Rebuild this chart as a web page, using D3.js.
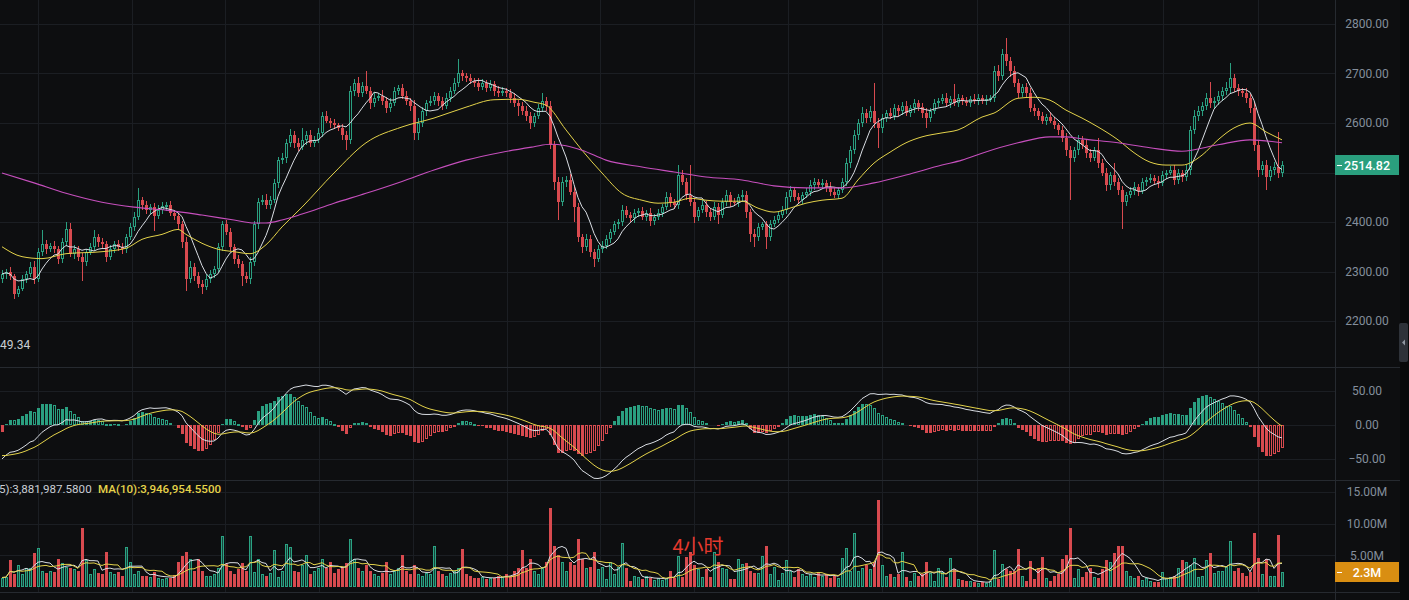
<!DOCTYPE html>
<html><head><meta charset="utf-8">
<script src="https://cdn.jsdelivr.net/npm/d3@7"></script>
<style>
html,body{margin:0;padding:0;background:#0d0e10;overflow:hidden}
svg{display:block}
text{font-family:Roboto,"Noto Sans",sans-serif}
</style></head><body>
<svg id="c" width="1409" height="600"></svg>
<script>
// ---------------- DATA ----------------
const firstOpen = 2285;
const closes = [
2295,2300,2290,2255,2265,2285,2295,2310,2285,2340,
2355,2345,2352,2345,2325,2360,2385,2335,2345,2330,
2320,2340,2350,2370,2360,2355,2330,2345,2355,2350,
2345,2370,2390,2410,2445,2435,2425,2430,2412,2425,
2432,2435,2418,2412,2395,2360,2285,2310,2290,2275,
2268,2285,2295,2305,2350,2395,2380,2350,2325,2315,
2290,2285,2320,2395,2440,2445,2435,2445,2478,2525,
2530,2560,2575,2560,2552,2565,2575,2560,2565,2580,
2615,2605,2600,2595,2590,2575,2565,2665,2680,2660,
2675,2665,2640,2650,2655,2645,2630,2640,2665,2670,
2655,2645,2635,2580,2600,2625,2640,2645,2655,2645,
2635,2650,2665,2680,2700,2695,2690,2685,2680,2672,
2680,2670,2678,2665,2660,2665,2660,2650,2640,2635,
2625,2615,2600,2615,2630,2645,2635,2555,2480,2440,
2480,2485,2460,2430,2370,2350,2365,2340,2325,2345,
2352,2365,2380,2395,2400,2425,2415,2408,2418,2422,
2410,2418,2402,2410,2418,2430,2450,2440,2435,2495,
2480,2455,2440,2410,2425,2435,2420,2410,2430,2415,
2440,2455,2440,2438,2450,2455,2420,2375,2370,2390,
2395,2370,2395,2405,2415,2425,2450,2465,2450,2445,
2455,2460,2475,2480,2475,2478,2470,2460,2455,2465,
2480,2520,2545,2575,2600,2620,2610,2625,2600,2590,
2610,2620,2615,2630,2625,2635,2620,2630,2640,2632,
2620,2610,2625,2640,2645,2650,2640,2648,2640,2650,
2645,2640,2648,2645,2650,2645,2648,2650,2705,2695,
2740,2725,2705,2680,2660,2672,2660,2630,2625,2615,
2605,2612,2605,2595,2585,2570,2545,2530,2545,2565,
2555,2540,2530,2545,2520,2500,2475,2495,2480,2465,
2440,2455,2462,2470,2462,2480,2485,2488,2482,2478,
2495,2500,2505,2485,2500,2490,2505,2585,2615,2625,
2635,2650,2640,2645,2655,2665,2670,2690,2670,2665,
2660,2650,2630,2555,2505,2515,2490,2505,2512,2500,
2514.82];
// wick length above / below the body (price units)
const wickUp = [
8,6,10,5,6,8,7,10,12,8, 29,8,6,10,6,8,15,12,8,6,
8,6,8,14,6,8,6,8,6,8, 8,6,8,10,23,6,8,6,8,10,
8,6,8,6,6,8,10,12,8,10, 8,10,8,6,8,8,10,8,6,8,
6,8,10,8,8,10,12,8,8,6, 10,8,12,8,10,25,8,10,8,10,
8,10,6,8,6,8,8,10,8,12, 8,30,8,10,6,12,8,10,8,6,
8,10,6,12,10,8,6,10,8,6, 8,10,8,10,30,8,6,8,6,10,
8,6,8,6,10,8,6,8,10,6, 8,10,8,6,8,15,8,10,8,10,
10,8,12,10,8,6,10,8,6,8, 10,8,6,8,6,10,8,6,8,6,
8,6,10,6,8,6,10,8,6,20, 10,8,60,8,6,10,8,6,10,8,
8,10,6,8,6,10,8,6,10,8, 6,8,10,8,6,8,10,8,6,8,
6,8,10,8,6,8,6,10,8,6, 8,10,8,10,8,12,8,10,55,10,
8,6,10,8,6,8,10,6,8,6, 8,10,6,8,6,8,10,6,30,8,
6,8,6,10,8,6,8,6,10,12, 10,32,8,10,8,6,8,10,8,6,
8,6,10,8,6,8,10,8,6,10, 8,10,8,6,25,8,10,6,25,8,
8,6,8,10,6,8,6,8,6,10, 8,6,8,10,8,6,10,8,12,10,
8,10,33,8,10,8,12,32,10,8, 6,10,8,12,10,8,10,8,10,70,
8];
const wickDn = [
8,10,8,10,6,5,8,6,10,6, 8,10,6,8,10,8,8,6,10,8,
40,8,6,8,10,8,10,6,8,8, 10,8,6,8,6,10,8,8,30,6,
8,10,6,8,10,12,25,8,10,8, 13,6,8,8,6,8,6,8,10,8,
20,8,10,8,10,6,8,8,6,10, 8,10,8,10,8,6,10,8,8,6,
8,6,10,8,6,10,20,8,10,8, 8,6,12,8,6,8,10,8,6,8,
6,8,10,15,15,8,10,6,8,10, 8,6,8,6,8,10,8,6,8,8,
6,8,6,10,8,6,8,10,8,20, 8,10,12,8,6,8,10,8,15,35,
8,10,6,30,10,12,8,10,15,6, 8,6,8,6,10,8,6,8,10,8,
6,8,10,8,6,8,6,10,8,8, 6,10,8,12,8,6,10,8,6,20,
6,8,10,6,8,10,12,15,20,8, 6,25,8,6,8,6,8,10,8,6,
8,6,8,10,6,8,10,8,6,8, 6,8,10,8,10,8,10,8,10,40,
10,8,6,8,10,8,6,8,10,8, 10,20,8,6,8,6,8,10,6,8,
8,6,8,6,8,6,8,6,8,10, 8,10,12,8,10,8,10,8,10,8,
8,10,6,8,10,8,12,85,8,10, 8,10,8,6,10,8,12,10,8,10,
55,8,6,8,10,6,8,6,8,10, 6,8,6,10,8,10,8,10,8,10,
10,8,10,12,8,10,8,10,8,10, 8,10,10,12,15,10,25,8,10,12,
10];
// volume, millions
const volumes = [
1.5,1.6,4.3,2.0,3.5,2.0,3.0,3.0,5.4,6.2,
2.5,2.2,2.6,2.4,4.4,3.8,3.2,3.0,2.8,2.5,
9.3,4.2,2.0,2.8,2.2,2.0,5.5,2.4,2.0,2.4,
1.8,6.3,3.9,2.0,2.5,1.8,1.8,1.6,2.3,1.4,
1.3,1.5,1.4,1.9,3.9,4.9,5.5,4.4,2.5,4.4,
2.5,1.8,1.7,2.0,3.0,8.0,3.7,2.5,2.0,2.8,
3.8,2.5,8.0,2.4,4.4,2.0,1.8,2.2,5.9,1.6,
2.6,6.8,6.3,2.5,2.3,3.5,5.0,2.0,2.5,3.0,
4.5,3.0,4.0,2.2,2.8,3.2,3.8,7.6,4.5,3.0,
2.5,3.5,2.5,2.0,1.8,2.2,4.0,2.0,2.5,3.0,
5.0,2.6,2.0,3.5,2.0,1.8,2.2,2.0,6.5,2.5,
2.0,1.8,2.2,2.5,3.0,6.0,2.0,1.8,1.5,1.4,
1.6,1.3,1.5,1.4,1.8,1.6,2.0,1.8,2.5,3.0,
5.8,3.0,4.5,2.5,2.0,3.0,4.0,12.5,6.5,5.0,
4.0,2.5,4.0,3.5,7.6,4.5,3.0,3.2,5.5,2.8,
3.2,1.3,4.0,2.0,3.2,7.0,3.0,1.0,1.8,1.6,
1.2,1.8,1.4,1.1,1.4,1.1,1.4,2.5,1.4,4.9,
1.6,4.8,5.6,3.5,2.8,1.6,2.8,1.6,5.6,4.0,
3.0,2.8,1.2,1.2,4.5,3.6,3.8,2.5,2.2,2.2,
4.9,6.5,2.0,3.2,1.1,2.2,4.3,2.5,1.6,2.8,
2.0,1.8,2.0,1.6,2.2,1.8,2.0,1.4,1.8,1.5,
4.6,6.2,2.5,8.5,2.5,3.0,3.5,2.8,4.0,13.8,
3.5,1.8,2.0,1.6,2.0,5.6,1.6,0.9,2.2,1.8,
2.0,4.0,2.2,0.9,3.0,2.4,1.6,4.6,2.8,1.2,
1.1,1.0,0.9,0.8,0.7,0.8,0.6,1.0,5.9,1.3,
3.6,2.8,2.6,2.5,6.0,1.8,1.0,4.1,1.3,3.0,
4.8,1.5,1.0,1.8,2.0,4.4,5.0,9.3,1.5,2.8,
1.6,2.4,3.0,1.6,1.4,2.8,4.3,4.0,5.4,6.4,
6.4,2.6,1.8,1.4,1.8,1.1,1.4,1.0,0.8,0.8,
2.4,1.4,1.6,1.8,3.0,4.3,4.0,3.4,4.6,1.6,
1.8,4.3,5.3,2.2,2.6,2.6,3.2,7.3,2.6,3.0,
2.2,1.8,2.4,8.5,4.6,2.0,4.5,1.8,1.8,8.2,
2.3];
// MA(25) (yellow) read at candle indices: [index, price]
const ma25Read = [[0,2350],[5,2330],[10,2326],[16,2336],[25,2340],[31,2347],[35,2365],[40,2375],[44,2385],[46,2375],[50,2357],[54,2345],[58,2340],[62,2336],[66,2354],[70,2390],[75,2430],[83,2499],[91,2560],[100,2592],[108,2610],[116,2632],[123,2647],[129,2648],[133,2642],[136,2636],[141,2586],[145,2545],[150,2499],[155,2458],[160,2444],[164,2438],[168,2440],[172,2448],[176,2444],[180,2442],[185,2442],[189,2428],[193,2420],[197,2428],[201,2438],[205,2444],[210,2448],[214,2485],[218,2519],[222,2541],[226,2560],[230,2572],[235,2580],[239,2586],[245,2612],[248,2620],[254,2650],[258,2652],[262,2646],[266,2626],[270,2610],[274,2592],[279,2566],[283,2540],[287,2521],[291,2515],[295,2515],[300,2535],[304,2566],[308,2590],[312,2600],[316,2582],[320,2566]];
// MA(99) (magenta) read at candle indices: [index, price]
const ma99Read = [[0,2499],[8,2479],[16,2458],[25,2440],[33,2430],[41,2424],[50,2414],[58,2404],[63,2398],[66,2398],[70,2404],[75,2416],[83,2438],[91,2458],[100,2482],[108,2505],[116,2525],[125,2541],[133,2552],[137,2557],[141,2554],[145,2545],[151,2525],[160,2511],[168,2501],[176,2491],[185,2485],[193,2473],[201,2469],[210,2469],[218,2479],[226,2495],[235,2515],[240,2525],[245,2539],[254,2560],[262,2572],[266,2572],[270,2568],[279,2560],[287,2550],[295,2543],[304,2556],[312,2566],[320,2560]];
// MACD start state read at the left edge (DIF, DEA)
const difStart = -50, deaStart = -45;
const priceTicks = [2200,2300,2400,2500,2600,2700,2800];
const priceTickLabels = [2200,2300,2400,2600,2700,2800]; // 2500 hidden under the price tag
const macdTicks = [-50,0,50];
const volTicks = [5,10,15];
const lastPrice = 2514.82, lastVol = 2.3;
const macdLegend = "49.34";
const volLegend1 = "5):3,881,987.5800";
const volLegend2 = "MA(10):3,946,954.5500";
const periodLabel = "4小时";

// ---------------- STYLE ----------------
const BG = "#0d0e10", GRID = "#1b1e23", SEP = "#262a30";
const UP = "#2a9f80", DN = "#d84a4f", AXT = "#848e9c";
const W = 1409, H = 600, PLOT_R = 1335;

const svg = d3.select("#c");
svg.append("rect").attr("width", W).attr("height", H).attr("fill", BG);

const N = closes.length;
const opens = closes.map((c, i) => i === 0 ? firstOpen : closes[i - 1]);
const x = d3.scaleLinear().domain([0, N - 1]).range([2, 1282]);
const yP = d3.scaleLinear().domain([2200, 2800]).range([321, 24]);
const yM = d3.scaleLinear().domain([-50, 50]).range([459, 391]);
const yV = d3.scaleLinear().domain([0, 15]).range([587, 492]);

// grids
const grid = svg.append("g").attr("shape-rendering", "crispEdges");
const vGrid = [38, 131.5, 225, 319, 413, 507, 600, 694, 788, 882, 977, 1069, 1163, 1258];
grid.selectAll(".vg").data(vGrid).join("line")
  .attr("x1", d => Math.round(d) + 0.5).attr("x2", d => Math.round(d) + 0.5)
  .attr("y1", 0).attr("y2", 592).attr("stroke", GRID);
function hgrid(ticks, sc) {
  grid.selectAll(null).data(ticks).join("line")
    .attr("x1", 0).attr("x2", PLOT_R)
    .attr("y1", d => Math.round(sc(d)) + 0.5).attr("y2", d => Math.round(sc(d)) + 0.5)
    .attr("stroke", GRID);
}
hgrid(priceTicks, yP); hgrid(macdTicks, yM); hgrid(volTicks, yV);
// pane separators
[367, 480, 592].forEach(y => grid.append("line").attr("x1", 0).attr("x2", 1400)
  .attr("y1", y + 0.5).attr("y2", y + 0.5).attr("stroke", SEP));
grid.append("line").attr("x1", PLOT_R + 0.5).attr("x2", PLOT_R + 0.5).attr("y1", 0).attr("y2", H).attr("stroke", SEP);

// ---------------- CANDLES ----------------
const cg = svg.append("g").attr("shape-rendering", "crispEdges");
closes.forEach((c, i) => {
  const o = opens[i];
  const up = c >= o;
  const col = up ? UP : DN;
  const cx = Math.round(x(i));
  const top = Math.max(o, c), bot = Math.min(o, c);
  const hi = top + wickUp[i], lo = bot - wickDn[i];
  const yt = Math.round(yP(top)), yb = Math.max(Math.round(yP(bot)), yt + 1);
  cg.append("line").attr("x1", cx + 0.5).attr("x2", cx + 0.5)
    .attr("y1", yP(hi)).attr("y2", yt).attr("stroke", col);
  cg.append("line").attr("x1", cx + 0.5).attr("x2", cx + 0.5)
    .attr("y1", yb).attr("y2", yP(lo)).attr("stroke", col);
  if (up) {
    cg.append("rect").attr("x", cx - 0.5).attr("y", yt + 0.5)
      .attr("width", 2).attr("height", Math.max(yb - yt - 1, 0.5))
      .attr("fill", BG).attr("stroke", col);
  } else {
    cg.append("rect").attr("x", cx - 1).attr("y", yt)
      .attr("width", 3).attr("height", yb - yt).attr("fill", col);
  }
});

// MA lines
const ma7 = closes.map((c, i) => d3.mean(closes.slice(Math.max(0, i - 6), i + 1)));
const lp = d3.line().x((d, i) => x(i)).y(d => yP(d));
svg.append("path").attr("d", lp(ma7)).attr("fill", "none").attr("stroke", "#d8dce2").attr("stroke-width", 1);
const lr = d3.line().x(d => x(d[0])).y(d => yP(d[1])).curve(d3.curveMonotoneX);
svg.append("path").attr("d", lr(ma25Read)).attr("fill", "none").attr("stroke", "#e3d24a").attr("stroke-width", 1);
svg.append("path").attr("d", lr(ma99Read)).attr("fill", "none").attr("stroke", "#c64fbd").attr("stroke-width", 1.1);

// ---------------- MACD ----------------
const k12 = 2 / 13, k26 = 2 / 27, k9 = 2 / 10;
let e12 = closes[0] + 0.4 * difStart, e26 = closes[0] - 0.6 * difStart, dea = deaStart;
const dif = [], deaArr = [], hist = [];
closes.forEach((c, i) => {
  if (i > 0) { e12 = e12 + k12 * (c - e12); e26 = e26 + k26 * (c - e26); }
  const d = e12 - e26;
  if (i > 0) dea = dea + k9 * (d - dea);
  dif.push(d); deaArr.push(dea); hist.push(2 * (d - dea));
});
const mg = svg.append("g").attr("shape-rendering", "crispEdges");
const y0 = Math.round(yM(0));
hist.forEach((h, i) => {
  const cx = Math.round(x(i));
  const prev = i > 0 ? hist[i - 1] : h;
  const pos = h >= 0;
  const col = pos ? UP : DN;
  const yh = Math.round(yM(h));
  const t = Math.min(yh, y0), b = Math.max(yh, y0);
  const hollow = pos ? (h < prev) : (h > prev);
  if (b - t < 1) return;
  if (hollow) {
    mg.append("rect").attr("x", cx - 0.5).attr("y", t + 0.5).attr("width", 2)
      .attr("height", Math.max(b - t - 1, 0.5)).attr("fill", BG).attr("stroke", col);
  } else {
    mg.append("rect").attr("x", cx - 1).attr("y", t).attr("width", 3).attr("height", b - t).attr("fill", col);
  }
});
const lm = d3.line().x((d, i) => x(i)).y(d => yM(d));
svg.append("path").attr("d", lm(dif)).attr("fill", "none").attr("stroke", "#d8dce2").attr("stroke-width", 1);
svg.append("path").attr("d", lm(deaArr)).attr("fill", "none").attr("stroke", "#e3d24a").attr("stroke-width", 1);

// ---------------- VOLUME ----------------
const vg = svg.append("g").attr("shape-rendering", "crispEdges");
const VUP = "#2aa383";
volumes.forEach((v, i) => {
  const up = closes[i] >= opens[i];
  const cx = Math.round(x(i));
  const t = Math.round(yV(v)), b = Math.round(yV(0));
  if (up) {
    vg.append("rect").attr("x", cx - 0.5).attr("y", t + 0.5).attr("width", 2)
      .attr("height", Math.max(b - t - 1, 0.5)).attr("fill", "#17423a").attr("stroke", VUP);
  } else {
    vg.append("rect").attr("x", cx - 1).attr("y", t).attr("width", 3).attr("height", b - t).attr("fill", DN);
  }
});
const vma = n => volumes.map((v, i) => d3.mean(volumes.slice(Math.max(0, i - n + 1), i + 1)));
const lv = d3.line().x((d, i) => x(i)).y(d => yV(d));
svg.append("path").attr("d", lv(vma(5))).attr("fill", "none").attr("stroke", "#d8dce2").attr("stroke-width", 1);
svg.append("path").attr("d", lv(vma(10))).attr("fill", "none").attr("stroke", "#e3d24a").attr("stroke-width", 1);

// ---------------- AXES ----------------
function axis(sc, ticks, fmt) {
  const g = svg.append("g").attr("transform", `translate(1367,0)`)
    .call(d3.axisRight(sc).tickValues(ticks).tickFormat(fmt).tickSize(0).tickPadding(0));
  g.select(".domain").remove();
  g.selectAll("text").attr("text-anchor", "middle").attr("x", 0)
    .attr("fill", AXT).style("font-size", "12px").style("font-family", "Roboto, 'Noto Sans', sans-serif");
}
axis(yP, priceTickLabels, d3.format(".2f"));
axis(yM, macdTicks, d3.format(".2f"));
axis(yV, volTicks, d => d3.format(".2f")(d) + "M");

// last price / last volume tags
function tag(y, color, label) {
  svg.append("rect").attr("x", PLOT_R).attr("y", y - 10).attr("width", 64).attr("height", 20).attr("fill", color);
  svg.append("line").attr("x1", 1337).attr("x2", 1342).attr("y1", y + 0.5).attr("y2", y + 0.5).attr("stroke", "#fff");
  svg.append("text").attr("x", 1367).attr("y", y + 4.5).attr("text-anchor", "middle")
    .attr("fill", "#fff").style("font-size", "12.5px").style("font-weight", "500").text(label);
}
tag(Math.round(yP(lastPrice)), "#2a9f7e", d3.format(".2f")(lastPrice));
tag(Math.round(yV(lastVol)), "#d98e12", lastVol + "M");

// right scroll strip
svg.append("rect").attr("x", 1400).attr("y", 0).attr("width", 9).attr("height", H).attr("fill", "#08090a");
svg.append("rect").attr("x", 1399).attr("y", 323).attr("width", 9).attr("height", 39).attr("rx", 2).attr("fill", "#2e3239");
svg.append("path").attr("d", "M1402,342.5 L1405,339.5 L1405,345.5 Z").attr("fill", "#9097a1");

// legends
svg.append("text").attr("x", 0).attr("y", 349).attr("fill", "#c9cdd3").style("font-size", "12px").text(macdLegend);
svg.append("text").attr("x", -1).attr("y", 493).attr("fill", "#c9cdd3").style("font-size", "11.6px").text(volLegend1);
svg.append("text").attr("x", 98).attr("y", 493).attr("fill", "#e6d34a").style("font-size", "11.6px").style("font-weight", "500").text(volLegend2);
svg.append("text").attr("x", 698).attr("y", 554).attr("text-anchor", "middle").attr("fill", "#e5392d")
  .style("font-size", "20px").style("font-family", "'Noto Sans CJK SC', sans-serif").text(periodLabel);
</script>
</body></html>
